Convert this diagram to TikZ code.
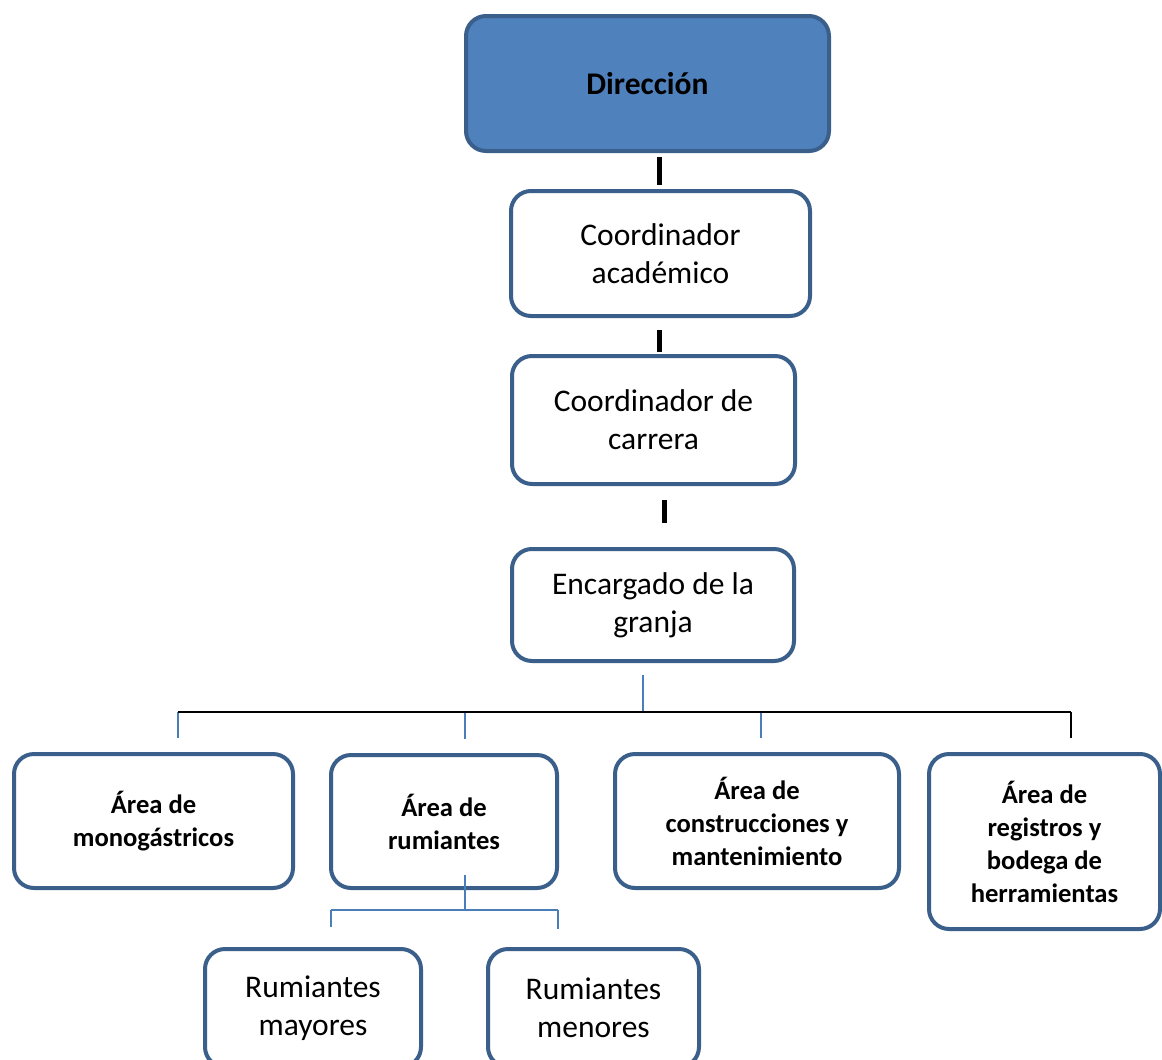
\documentclass[tikz,border=0pt]{standalone}
\usepackage{fontspec}
\setmainfont{Carlito}
\definecolor{boxborder}{HTML}{3A5F8B}
\definecolor{boxfill}{HTML}{4F81BD}
\definecolor{connblue}{HTML}{4A7EBB}
\tikzset{
  orgbox/.style={draw=boxborder, line width=4pt, rounded corners=20pt, fill=white,
    outer sep=0pt, inner sep=0pt, align=center, text=black},
  bigtext/.style={font=\fontsize{31.5}{38}\selectfont},
  boldtext/.style={font=\fontsize{26.6}{33}\selectfont\bfseries},
  barline/.style={draw=black, line width=5pt},
  blueline/.style={draw=connblue, line width=2pt},
  busline/.style={draw=black, line width=2.5pt},
}
\begin{document}
\begin{tikzpicture}[x=1pt, y=-1pt]
\useasboundingbox (0,0) rectangle (1162,1060);
% boxes
\node[orgbox, fill=boxfill, font=\fontsize{31.5}{38}\selectfont\bfseries,
  minimum width=363pt, minimum height=135pt] (dir) at (647.5,83.5) {Dirección};
\node[orgbox, bigtext, minimum width=299pt, minimum height=125pt] (ca) at (660.5,253.5) {Coordinador\\académico};
\node[orgbox, bigtext, minimum width=283pt, minimum height=128pt] (cc) at (653.5,420) {Coordinador de\\carrera};
\node[orgbox, bigtext, minimum width=282pt, minimum height=112pt] (eg) at (653,605) {Encargado de la\\granja};
\node[orgbox, boldtext, minimum width=279pt, minimum height=134pt] (mono) at (153.5,821) {Área de\\monogástricos};
\node[orgbox, boldtext, minimum width=226pt, minimum height=133pt] (rum) at (444,821.5) {Área de\\rumiantes};
\node[orgbox, boldtext, minimum width=284pt, minimum height=134pt] (cons) at (757,821) {Área de\\construcciones y\\mantenimiento};
\node[orgbox, boldtext, minimum width=231pt, minimum height=175pt] (reg) at (1044.5,841.5) {Área de\\registros y\\bodega de\\herramientas};
\node[orgbox, bigtext, minimum width=216pt, minimum height=118pt] (rmay) at (313,1008) {Rumiantes\\mayores};
\node[orgbox, bigtext, minimum width=211pt, minimum height=118pt] (rmen) at (593.5,1008) {Rumiantes\\menores};
% black bars between top boxes
\coordinate (b1) at (659,0);
\coordinate (b2) at (659,0);
\coordinate (b3) at (664,0);
\draw[barline, shorten <=6pt, shorten >=6pt] (dir.south -| b1) -- (ca.north -| b1);
\draw[barline, shorten <=14pt, shorten >=4pt] (ca.south -| b2) -- (cc.north -| b2);
\draw[barline, shorten <=16pt, shorten >=26pt] (cc.south -| b3) -- (eg.north -| b3);
% bus under Encargado
\coordinate (bus) at (643,712);
\coordinate (d1) at (178,712);
\coordinate (d2) at (465,712);
\coordinate (d3) at (761,712);
\coordinate (d4) at (1071,712);
\draw[blueline, shorten <=14pt] (eg.south -| bus) -- (bus);
\draw[blueline, shorten >=16pt] (d1) -- (mono.north -| d1);
\draw[blueline, shorten >=16pt] (d2) -- (rum.north -| d2);
\draw[blueline, shorten >=16pt] (d3) -- (cons.north -| d3);
\draw[busline, shorten >=16pt] (d4) -- (reg.north -| d4);
\draw[busline] (d1) -- (d4);
% rumiantes subtree
\coordinate (rb) at (465,910);
\coordinate (r1) at (331,910);
\coordinate (r2) at (558,910);
\draw[blueline, shorten <=-13pt] (rum.south -| rb) -- (rb);
\draw[blueline] (r1) -- (r2);
\draw[blueline, shorten >=22pt] (r1) -- (rmay.north -| r1);
\draw[blueline, shorten >=20pt] (r2) -- (rmen.north -| r2);
\end{tikzpicture}
\end{document}
